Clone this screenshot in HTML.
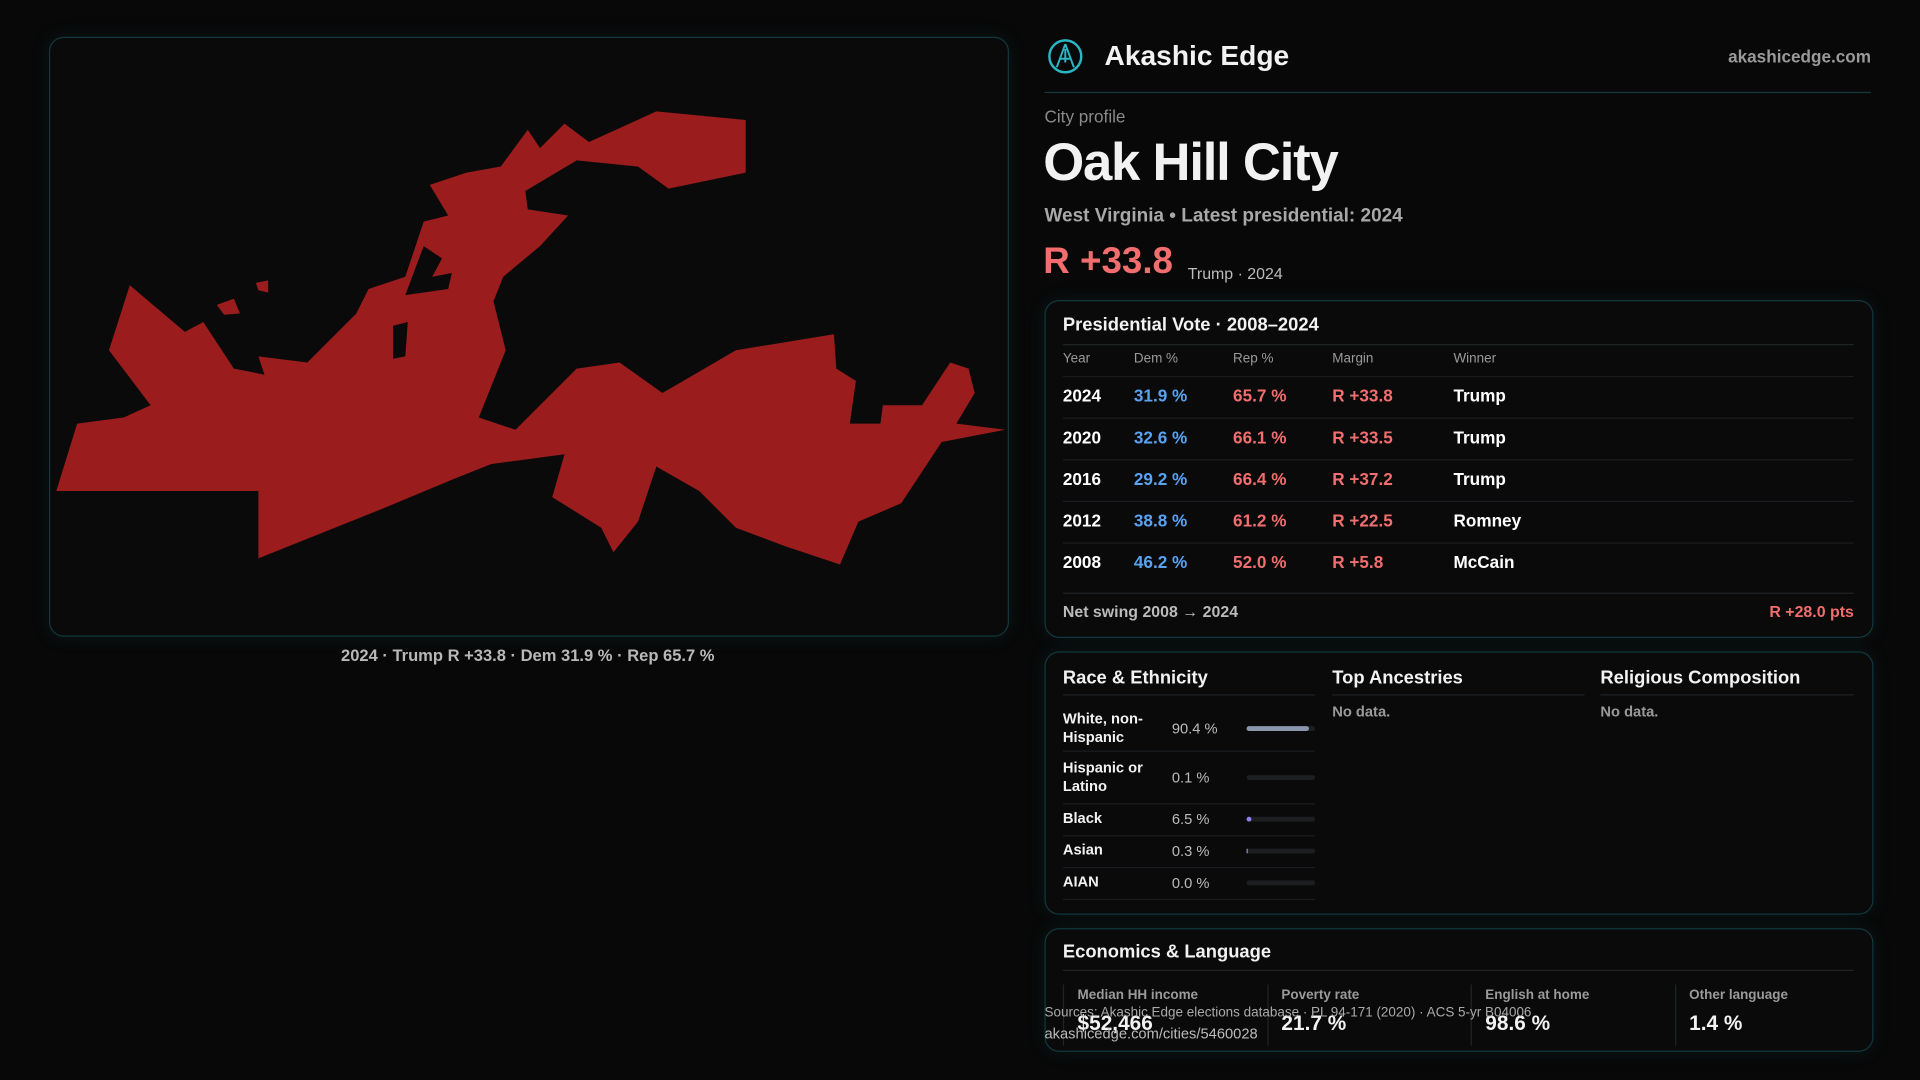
<!DOCTYPE html>
<html><head><meta charset="utf-8"><style>
html,body{margin:0;padding:0;background:#080808;width:1920px;height:1080px;overflow:hidden}
#root{position:absolute;left:0;top:0;width:1568px;height:882px;transform:scale(1.22449);transform-origin:0 0;font-family:"Liberation Sans",sans-serif;color:#f2f2f2}
.abs{position:absolute;white-space:nowrap}
.panel{position:absolute;border:1px solid #12383d;border-radius:12px;background:#0a0a0b;box-shadow:0 0 14px rgba(20,90,100,0.18)}
.hl{position:absolute;height:1px;background:#1f2426}
.muted{color:#9a9a9a}
.red{color:#f26d6d}.blue{color:#5aa2f0}
</style></head><body>
<div id="root">
<div class="panel" style="left:40px;top:30px;width:782px;height:488px">
<svg width="782" height="488" style="position:absolute;left:0;top:0">
<g transform="translate(-40,-30)">
<polygon fill="#9b1c1c" points="45,400 62,345 100,340 122,330 88,285 105,232 150,270 165,262 190,300 215,305 210,290 250,295 290,255 300,235 330,225 345,180 365,175 350,150 380,140 408,135 430,105 440,120 460,100 480,115 535,90 608,97 608,140 545,153 520,135 470,130 428,155 430,170 463,175 440,200 410,225 402,245 412,285 390,340 420,350 470,300 505,295 540,320 600,285 680,272 682,300 698,310 693,345 718,345 720,330 752,330 775,295 790,300 795,320 780,345 820,350 768,360 735,410 700,425 685,460 640,445 600,430 570,400 535,380 520,425 500,450 490,430 450,405 460,370 400,378 370,390 310,415 210,455 210,400 160,400"/>
<polygon fill="#0a0a0b" points="330,240 345,200 360,210 352,225 368,222 365,235" />
<polygon fill="#0a0a0b" points="320,265 332,262 330,290 320,292" />
<polygon fill="#9b1c1c" points="176,248 190,243 195,255 182,256" />
<polygon fill="#9b1c1c" points="208,230 218,228 218,238 210,236" />
</g></svg>
</div>
<div class="abs" style="left:40px;width:782px;text-align:center;top:528px;font-size:13.5px;font-weight:bold;color:#b8b8b8">2024 · Trump R +33.8 · Dem 31.9 % · Rep 65.7 %</div>

<svg class="abs" style="left:855px;top:31px" width="30" height="30"><circle cx="15" cy="15" r="13" fill="none" stroke="#2bb6c4" stroke-width="2"/><path d="M15 5 L8 24 M15 5 L22 24 M10 17 L20 17 M15 9 L15 20" stroke="#2bb6c4" stroke-width="1.6" fill="none"/></svg>
<div class="abs" style="left:902px;top:32px;font-size:23px;font-weight:bold">Akashic Edge</div>
<div class="abs muted" style="right:40px;top:38px;font-size:14px;font-weight:bold">akashicedge.com</div>
<div class="hl" style="left:853px;top:75px;width:675px;background:#15393e"></div>
<div class="abs" style="left:853px;top:87px;font-size:14px;color:#8a8a8a">City profile</div>
<div class="abs" style="left:852px;top:109px;font-size:43px;font-weight:bold;letter-spacing:-1px">Oak Hill City</div>
<div class="abs" style="left:853px;top:168px;font-size:15.5px;font-weight:bold;color:#a8a8a8">West Virginia • Latest presidential: 2024</div>
<div class="abs red" style="left:852px;top:197px;font-size:30px;font-weight:bold">R +33.8</div>
<div class="abs" style="left:970px;top:216px;font-size:13px;color:#bbb">Trump · 2024</div>

<div class="panel" style="left:853px;top:245px;width:675px;height:274px">
<div class="abs" style="left:14px;top:11px;font-size:15px;font-weight:bold">Presidential Vote · 2008–2024</div>
<div class="hl" style="left:14px;top:35px;width:646px"></div>
<div id="vote-rows"></div>
<div class="hl" style="left:14px;top:238px;width:646px"></div>
<div class="abs" style="left:14px;top:246px;font-size:13px;color:#bbb;font-weight:bold">Net swing 2008 → 2024</div>
<div class="abs red" style="right:15px;top:246px;font-size:13px;font-weight:bold">R +28.0 pts</div>
</div>

<div class="panel" style="left:853px;top:532px;width:675px;height:213px">
<div class="abs" style="left:14px;top:12px;font-size:15px;font-weight:bold">Race &amp; Ethnicity</div>
<div class="hl" style="left:14px;top:34px;width:206px"></div>
<div id="race-rows"></div>
<div class="abs" style="left:234px;top:12px;font-size:15px;font-weight:bold">Top Ancestries</div>
<div class="hl" style="left:234px;top:34px;width:206px"></div>
<div class="abs muted" style="left:234px;top:41px;font-size:12px;font-weight:bold">No data.</div>
<div class="abs" style="left:453px;top:12px;font-size:15px;font-weight:bold">Religious Composition</div>
<div class="hl" style="left:453px;top:34px;width:207px"></div>
<div class="abs muted" style="left:453px;top:41px;font-size:12px;font-weight:bold">No data.</div>
</div>

<div class="panel" style="left:853px;top:758px;width:675px;height:99px">
<div class="abs" style="left:14px;top:10px;font-size:15px;font-weight:bold">Economics &amp; Language</div>
<div class="hl" style="left:14px;top:33px;width:646px"></div>
<div id="econ"></div>
</div>
<div class="abs" style="left:853px;top:821px;font-size:11px;color:#aaa">Sources: Akashic Edge elections database · PL 94-171 (2020) · ACS 5-yr B04006</div>
<div class="abs" style="left:853px;top:837px;font-size:12px;color:#bbb">akashicedge.com/cities/5460028</div>
</div>
<script>
const years=["2024","2020","2016","2012","2008"];
const demPct=[31.9,32.6,29.2,38.8,46.2];
const repPct=[65.7,66.1,66.4,61.2,52.0];
const margins=[33.8,33.5,37.2,22.5,5.8];
const winners=["Trump","Trump","Trump","Romney","McCain"];
const raceLabels=["White, non-<br>Hispanic","Hispanic or<br>Latino","Black","Asian","AIAN"];
const racePct=[90.4,0.1,6.5,0.3,0.0];
const econLabels=["Median HH income","Poverty rate","English at home","Other language"];
const econValues=["$52,466","21.7 %","98.6 %","1.4 %"];

const vr=document.getElementById('vote-rows');
const hdrs=["Year","Dem %","Rep %","Margin","Winner"],cx=[14,72,153,234,333];
hdrs.forEach((h,i)=>{const d=document.createElement('div');d.className='abs muted';d.style.cssText=`left:${cx[i]}px;top:41px;font-size:11px`;d.textContent=h;

vr.appendChild(d);});
years.forEach((y,i)=>{const top=61+i*34;
const ln=document.createElement('div');ln.className='hl';ln.style.cssText=`left:14px;top:${top}px;width:646px;background:#1a1d1f`;vr.appendChild(ln);
const cells=[[y,'#fff'],[demPct[i].toFixed(1)+' %','#5aa2f0'],[repPct[i].toFixed(1)+' %','#f26d6d'],['R +'+margins[i].toFixed(1),'#f26d6d'],[winners[i],'#fff']];
cells.forEach((c,j)=>{const d=document.createElement('div');d.className='abs';d.style.cssText=`left:${cx[j]}px;top:${top+8}px;font-size:14px;font-weight:bold;color:${c[1]}`;d.textContent=c[0];

vr.appendChild(d);});});

const rr=document.getElementById('race-rows');
const rowTop=[43,80,123,149,175],rowH=[37,43,26,26,26];
raceLabels.forEach((l,i)=>{const t=rowTop[i],h=rowH[i];
const a=document.createElement('div');a.className='abs';a.style.cssText=`left:14px;top:${h<30?t+5:t+h/2-15}px;font-size:12px;font-weight:bold;line-height:15px`;a.innerHTML=l;

rr.appendChild(a);
const v=document.createElement('div');v.className='abs';v.style.cssText=`left:103px;top:${t+h/2-7}px;font-size:12px;color:#bbb`;v.textContent=racePct[i].toFixed(1)+' %';

rr.appendChild(v);
const tr=document.createElement('div');tr.className='abs';tr.style.cssText=`left:164px;top:${t+h/2-2}px;width:56px;height:4px;border-radius:2px;background:#1c1e21`;


const f=document.createElement('div');f.style.cssText=`width:${Math.max(racePct[i]>1?2:0,56*racePct[i]/100)}px;height:4px;border-radius:2px;background:${i==2?'#8f7fe6':'#8a96ac'}`;

tr.appendChild(f);rr.appendChild(tr);
const ln=document.createElement('div');ln.className='hl';ln.style.cssText=`left:14px;top:${t+h}px;width:206px;background:#1a1d1f`;rr.appendChild(ln);});

const ec=document.getElementById('econ');
econLabels.forEach((l,i)=>{const x=14+i*166.5;
const b=document.createElement('div');b.className='abs';b.style.cssText=`left:${x}px;top:45px;width:1px;height:50px;background:#1f2426`;ec.appendChild(b);
const a=document.createElement('div');a.className='abs muted';a.style.cssText=`left:${x+12}px;top:48px;font-size:11px;font-weight:bold`;a.textContent=l;

ec.appendChild(a);
const v=document.createElement('div');v.className='abs';v.style.cssText=`left:${x+12}px;top:67px;font-size:17px;font-weight:bold`;v.textContent=econValues[i];

ec.appendChild(v);});
</script>
</body></html>
